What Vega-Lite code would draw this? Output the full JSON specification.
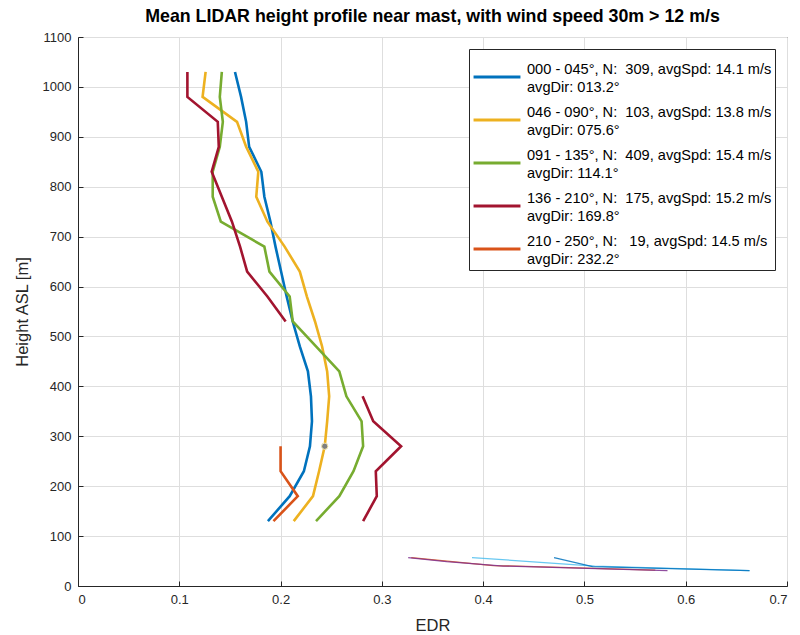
{
  "$schema": "https://vega.github.io/schema/vega-lite/v6.json",
  "autosize": {"type": "none"},
  "width": 709,
  "height": 549,
  "padding": {"left": 78, "top": 37, "right": 13, "bottom": 49},
  "background": "white",
  "title": {"text": "Mean LIDAR height profile near mast, with wind speed 30m > 12 m/s", "fontSize": 17.8, "fontWeight": "bold", "font": "Liberation Sans", "color": "#000000", "offset": 5, "anchor": "middle"},
  "config": {
    "font": "Liberation Sans",
    "view": {"stroke": "#262626", "strokeWidth": 1},
    "style": {"guide-label": {"lineHeight": 17.5}},
    "axis": {"labelColor": "#262626", "labelFontSize": 13, "titleColor": "#262626", "titleFontSize": 16.5, "titleFontWeight": "normal", "gridColor": "#dedede", "gridOpacity": 1, "domainColor": "#262626", "tickColor": "#262626", "tickSize": -5, "labelPadding": 12}
  },
  "datasets": {
    "main": [
      {"s": "000 - 045°, N:  309, avgSpd: 14.1 m/s| avgDir: 013.2°", "g": "a", "h": 1030, "edr": 0.155},
      {"s": "000 - 045°, N:  309, avgSpd: 14.1 m/s| avgDir: 013.2°", "g": "a", "h": 980, "edr": 0.161},
      {"s": "000 - 045°, N:  309, avgSpd: 14.1 m/s| avgDir: 013.2°", "g": "a", "h": 930, "edr": 0.166},
      {"s": "000 - 045°, N:  309, avgSpd: 14.1 m/s| avgDir: 013.2°", "g": "a", "h": 880, "edr": 0.169},
      {"s": "000 - 045°, N:  309, avgSpd: 14.1 m/s| avgDir: 013.2°", "g": "a", "h": 830, "edr": 0.181},
      {"s": "000 - 045°, N:  309, avgSpd: 14.1 m/s| avgDir: 013.2°", "g": "a", "h": 780, "edr": 0.184},
      {"s": "000 - 045°, N:  309, avgSpd: 14.1 m/s| avgDir: 013.2°", "g": "a", "h": 730, "edr": 0.190},
      {"s": "000 - 045°, N:  309, avgSpd: 14.1 m/s| avgDir: 013.2°", "g": "a", "h": 680, "edr": 0.195},
      {"s": "000 - 045°, N:  309, avgSpd: 14.1 m/s| avgDir: 013.2°", "g": "a", "h": 630, "edr": 0.2005},
      {"s": "000 - 045°, N:  309, avgSpd: 14.1 m/s| avgDir: 013.2°", "g": "a", "h": 580, "edr": 0.206},
      {"s": "000 - 045°, N:  309, avgSpd: 14.1 m/s| avgDir: 013.2°", "g": "a", "h": 530, "edr": 0.212},
      {"s": "000 - 045°, N:  309, avgSpd: 14.1 m/s| avgDir: 013.2°", "g": "a", "h": 480, "edr": 0.219},
      {"s": "000 - 045°, N:  309, avgSpd: 14.1 m/s| avgDir: 013.2°", "g": "a", "h": 430, "edr": 0.227},
      {"s": "000 - 045°, N:  309, avgSpd: 14.1 m/s| avgDir: 013.2°", "g": "a", "h": 380, "edr": 0.230},
      {"s": "000 - 045°, N:  309, avgSpd: 14.1 m/s| avgDir: 013.2°", "g": "a", "h": 330, "edr": 0.231},
      {"s": "000 - 045°, N:  309, avgSpd: 14.1 m/s| avgDir: 013.2°", "g": "a", "h": 280, "edr": 0.229},
      {"s": "000 - 045°, N:  309, avgSpd: 14.1 m/s| avgDir: 013.2°", "g": "a", "h": 230, "edr": 0.223},
      {"s": "000 - 045°, N:  309, avgSpd: 14.1 m/s| avgDir: 013.2°", "g": "a", "h": 180, "edr": 0.209},
      {"s": "000 - 045°, N:  309, avgSpd: 14.1 m/s| avgDir: 013.2°", "g": "a", "h": 130, "edr": 0.1875},

      {"s": "046 - 090°, N:  103, avgSpd: 13.8 m/s| avgDir: 075.6°", "g": "b", "h": 1030, "edr": 0.126},
      {"s": "046 - 090°, N:  103, avgSpd: 13.8 m/s| avgDir: 075.6°", "g": "b", "h": 980, "edr": 0.123},
      {"s": "046 - 090°, N:  103, avgSpd: 13.8 m/s| avgDir: 075.6°", "g": "b", "h": 930, "edr": 0.157},
      {"s": "046 - 090°, N:  103, avgSpd: 13.8 m/s| avgDir: 075.6°", "g": "b", "h": 880, "edr": 0.166},
      {"s": "046 - 090°, N:  103, avgSpd: 13.8 m/s| avgDir: 075.6°", "g": "b", "h": 830, "edr": 0.178},
      {"s": "046 - 090°, N:  103, avgSpd: 13.8 m/s| avgDir: 075.6°", "g": "b", "h": 780, "edr": 0.176},
      {"s": "046 - 090°, N:  103, avgSpd: 13.8 m/s| avgDir: 075.6°", "g": "b", "h": 730, "edr": 0.187},
      {"s": "046 - 090°, N:  103, avgSpd: 13.8 m/s| avgDir: 075.6°", "g": "b", "h": 680, "edr": 0.204},
      {"s": "046 - 090°, N:  103, avgSpd: 13.8 m/s| avgDir: 075.6°", "g": "b", "h": 630, "edr": 0.219},
      {"s": "046 - 090°, N:  103, avgSpd: 13.8 m/s| avgDir: 075.6°", "g": "b", "h": 580, "edr": 0.226},
      {"s": "046 - 090°, N:  103, avgSpd: 13.8 m/s| avgDir: 075.6°", "g": "b", "h": 530, "edr": 0.234},
      {"s": "046 - 090°, N:  103, avgSpd: 13.8 m/s| avgDir: 075.6°", "g": "b", "h": 480, "edr": 0.241},
      {"s": "046 - 090°, N:  103, avgSpd: 13.8 m/s| avgDir: 075.6°", "g": "b", "h": 430, "edr": 0.246},
      {"s": "046 - 090°, N:  103, avgSpd: 13.8 m/s| avgDir: 075.6°", "g": "b", "h": 380, "edr": 0.248},
      {"s": "046 - 090°, N:  103, avgSpd: 13.8 m/s| avgDir: 075.6°", "g": "b", "h": 330, "edr": 0.246},
      {"s": "046 - 090°, N:  103, avgSpd: 13.8 m/s| avgDir: 075.6°", "g": "b", "h": 280, "edr": 0.2436},
      {"s": "046 - 090°, N:  103, avgSpd: 13.8 m/s| avgDir: 075.6°", "g": "b", "h": 230, "edr": 0.238},
      {"s": "046 - 090°, N:  103, avgSpd: 13.8 m/s| avgDir: 075.6°", "g": "b", "h": 180, "edr": 0.232},
      {"s": "046 - 090°, N:  103, avgSpd: 13.8 m/s| avgDir: 075.6°", "g": "b", "h": 130, "edr": 0.213},

      {"s": "091 - 135°, N:  409, avgSpd: 15.4 m/s| avgDir: 114.1°", "g": "c", "h": 1030, "edr": 0.142},
      {"s": "091 - 135°, N:  409, avgSpd: 15.4 m/s| avgDir: 114.1°", "g": "c", "h": 980, "edr": 0.140},
      {"s": "091 - 135°, N:  409, avgSpd: 15.4 m/s| avgDir: 114.1°", "g": "c", "h": 930, "edr": 0.143},
      {"s": "091 - 135°, N:  409, avgSpd: 15.4 m/s| avgDir: 114.1°", "g": "c", "h": 880, "edr": 0.140},
      {"s": "091 - 135°, N:  409, avgSpd: 15.4 m/s| avgDir: 114.1°", "g": "c", "h": 830, "edr": 0.133},
      {"s": "091 - 135°, N:  409, avgSpd: 15.4 m/s| avgDir: 114.1°", "g": "c", "h": 780, "edr": 0.133},
      {"s": "091 - 135°, N:  409, avgSpd: 15.4 m/s| avgDir: 114.1°", "g": "c", "h": 730, "edr": 0.141},
      {"s": "091 - 135°, N:  409, avgSpd: 15.4 m/s| avgDir: 114.1°", "g": "c", "h": 680, "edr": 0.184},
      {"s": "091 - 135°, N:  409, avgSpd: 15.4 m/s| avgDir: 114.1°", "g": "c", "h": 630, "edr": 0.189},
      {"s": "091 - 135°, N:  409, avgSpd: 15.4 m/s| avgDir: 114.1°", "g": "c", "h": 580, "edr": 0.209},
      {"s": "091 - 135°, N:  409, avgSpd: 15.4 m/s| avgDir: 114.1°", "g": "c", "h": 530, "edr": 0.212},
      {"s": "091 - 135°, N:  409, avgSpd: 15.4 m/s| avgDir: 114.1°", "g": "c", "h": 480, "edr": 0.235},
      {"s": "091 - 135°, N:  409, avgSpd: 15.4 m/s| avgDir: 114.1°", "g": "c", "h": 430, "edr": 0.258},
      {"s": "091 - 135°, N:  409, avgSpd: 15.4 m/s| avgDir: 114.1°", "g": "c", "h": 380, "edr": 0.265},
      {"s": "091 - 135°, N:  409, avgSpd: 15.4 m/s| avgDir: 114.1°", "g": "c", "h": 330, "edr": 0.280},
      {"s": "091 - 135°, N:  409, avgSpd: 15.4 m/s| avgDir: 114.1°", "g": "c", "h": 280, "edr": 0.2815},
      {"s": "091 - 135°, N:  409, avgSpd: 15.4 m/s| avgDir: 114.1°", "g": "c", "h": 230, "edr": 0.272},
      {"s": "091 - 135°, N:  409, avgSpd: 15.4 m/s| avgDir: 114.1°", "g": "c", "h": 180, "edr": 0.258},
      {"s": "091 - 135°, N:  409, avgSpd: 15.4 m/s| avgDir: 114.1°", "g": "c", "h": 130, "edr": 0.235},

      {"s": "136 - 210°, N:  175, avgSpd: 15.2 m/s| avgDir: 169.8°", "g": "d1", "h": 1030, "edr": 0.108},
      {"s": "136 - 210°, N:  175, avgSpd: 15.2 m/s| avgDir: 169.8°", "g": "d1", "h": 980, "edr": 0.108},
      {"s": "136 - 210°, N:  175, avgSpd: 15.2 m/s| avgDir: 169.8°", "g": "d1", "h": 930, "edr": 0.138},
      {"s": "136 - 210°, N:  175, avgSpd: 15.2 m/s| avgDir: 169.8°", "g": "d1", "h": 880, "edr": 0.139},
      {"s": "136 - 210°, N:  175, avgSpd: 15.2 m/s| avgDir: 169.8°", "g": "d1", "h": 830, "edr": 0.132},
      {"s": "136 - 210°, N:  175, avgSpd: 15.2 m/s| avgDir: 169.8°", "g": "d1", "h": 780, "edr": 0.142},
      {"s": "136 - 210°, N:  175, avgSpd: 15.2 m/s| avgDir: 169.8°", "g": "d1", "h": 730, "edr": 0.152},
      {"s": "136 - 210°, N:  175, avgSpd: 15.2 m/s| avgDir: 169.8°", "g": "d1", "h": 680, "edr": 0.160},
      {"s": "136 - 210°, N:  175, avgSpd: 15.2 m/s| avgDir: 169.8°", "g": "d1", "h": 630, "edr": 0.167},
      {"s": "136 - 210°, N:  175, avgSpd: 15.2 m/s| avgDir: 169.8°", "g": "d1", "h": 580, "edr": 0.187},
      {"s": "136 - 210°, N:  175, avgSpd: 15.2 m/s| avgDir: 169.8°", "g": "d1", "h": 530, "edr": 0.205},
      {"s": "136 - 210°, N:  175, avgSpd: 15.2 m/s| avgDir: 169.8°", "g": "d2", "h": 380, "edr": 0.281},
      {"s": "136 - 210°, N:  175, avgSpd: 15.2 m/s| avgDir: 169.8°", "g": "d2", "h": 330, "edr": 0.2915},
      {"s": "136 - 210°, N:  175, avgSpd: 15.2 m/s| avgDir: 169.8°", "g": "d2", "h": 280, "edr": 0.319},
      {"s": "136 - 210°, N:  175, avgSpd: 15.2 m/s| avgDir: 169.8°", "g": "d2", "h": 230, "edr": 0.294},
      {"s": "136 - 210°, N:  175, avgSpd: 15.2 m/s| avgDir: 169.8°", "g": "d2", "h": 180, "edr": 0.295},
      {"s": "136 - 210°, N:  175, avgSpd: 15.2 m/s| avgDir: 169.8°", "g": "d2", "h": 130, "edr": 0.2815},

      {"s": "210 - 250°, N:   19, avgSpd: 14.5 m/s| avgDir: 232.2°", "g": "e", "h": 280, "edr": 0.200},
      {"s": "210 - 250°, N:   19, avgSpd: 14.5 m/s| avgDir: 232.2°", "g": "e", "h": 230, "edr": 0.200},
      {"s": "210 - 250°, N:   19, avgSpd: 14.5 m/s| avgDir: 232.2°", "g": "e", "h": 180, "edr": 0.217},
      {"s": "210 - 250°, N:   19, avgSpd: 14.5 m/s| avgDir: 232.2°", "g": "e", "h": 130, "edr": 0.193}
    ],
    "thin": [
      {"t": "r", "h": 57, "edr": 0.329},
      {"t": "r", "h": 41, "edr": 0.41},
      {"t": "r", "h": 32, "edr": 0.57},
      {"t": "p", "h": 57, "edr": 0.326},
      {"t": "p", "h": 49, "edr": 0.364},
      {"t": "p", "h": 40, "edr": 0.42},
      {"t": "p", "h": 31, "edr": 0.582},
      {"t": "lb", "h": 57, "edr": 0.389},
      {"t": "lb", "h": 40, "edr": 0.51},
      {"t": "lb", "h": 31, "edr": 0.663},
      {"t": "db", "h": 57, "edr": 0.470},
      {"t": "db", "h": 39, "edr": 0.508},
      {"t": "db", "h": 31, "edr": 0.663}
    ],
    "dot": [{"h": 280, "edr": 0.2436}]
  },
  "encoding": {
    "x": {"field": "edr", "type": "quantitative", "scale": {"domain": [0, 0.7], "nice": false, "zero": false},
      "axis": {"title": "EDR", "values": [0, 0.1, 0.2, 0.3, 0.4, 0.5, 0.6, 0.7], "format": "~g", "titlePadding": 11}},
    "y": {"field": "h", "type": "quantitative", "scale": {"domain": [0, 1100], "nice": false},
      "axis": {"title": "Height ASL [m]", "values": [0, 100, 200, 300, 400, 500, 600, 700, 800, 900, 1000, 1100], "format": "d", "titlePadding": 12}}
  },
  "layer": [
    {
      "data": {"name": "thin"},
      "mark": {"type": "line", "strokeWidth": 1.3, "opacity": 0.85},
      "encoding": {
        "detail": {"field": "t"},
        "order": {"field": "h", "type": "quantitative"},
        "color": {"field": "t", "type": "nominal", "legend": null,
          "scale": {"domain": ["r", "p", "lb", "db"], "range": ["#D95319", "#7E2F8E", "#4DBEEE", "#0072BD"]}}
      }
    },
    {
      "data": {"name": "main"},
      "mark": {"type": "line", "strokeWidth": 2.6},
      "encoding": {
        "detail": {"field": "g"},
        "order": {"field": "h", "type": "quantitative"},
        "color": {"field": "s", "type": "nominal",
          "scale": {"domain": [
            "000 - 045°, N:  309, avgSpd: 14.1 m/s| avgDir: 013.2°",
            "046 - 090°, N:  103, avgSpd: 13.8 m/s| avgDir: 075.6°",
            "091 - 135°, N:  409, avgSpd: 15.4 m/s| avgDir: 114.1°",
            "136 - 210°, N:  175, avgSpd: 15.2 m/s| avgDir: 169.8°",
            "210 - 250°, N:   19, avgSpd: 14.5 m/s| avgDir: 232.2°"],
            "range": ["#0072BD", "#EDB120", "#77AC30", "#A2142F", "#D95319"]},
          "legend": {"title": null, "orient": "top-right", "offset": 12, "labelExpr": "split(replace(replace(datum.label, /  /g, ' \u00a0'), '| ', '|\u2002'), '|')",
            "symbolType": "stroke", "symbolSize": 2200, "symbolStrokeWidth": 3, "labelFontSize": 14.6, "labelColor": "#000000", "labelBaseline": "bottom",
            "strokeColor": "#262626", "fillColor": "white", "padding": 3, "rowPadding": -20, "labelOffset": 5, "labelLimit": 400}}
      }
    },
    {
      "data": {"name": "dot"},
      "mark": {"type": "point", "filled": true, "fill": "#7f7f7f", "stroke": "#f5e9b0", "strokeWidth": 1, "size": 40, "opacity": 1}
    }
  ],
  "resolve": {"scale": {"color": "independent"}}
}
